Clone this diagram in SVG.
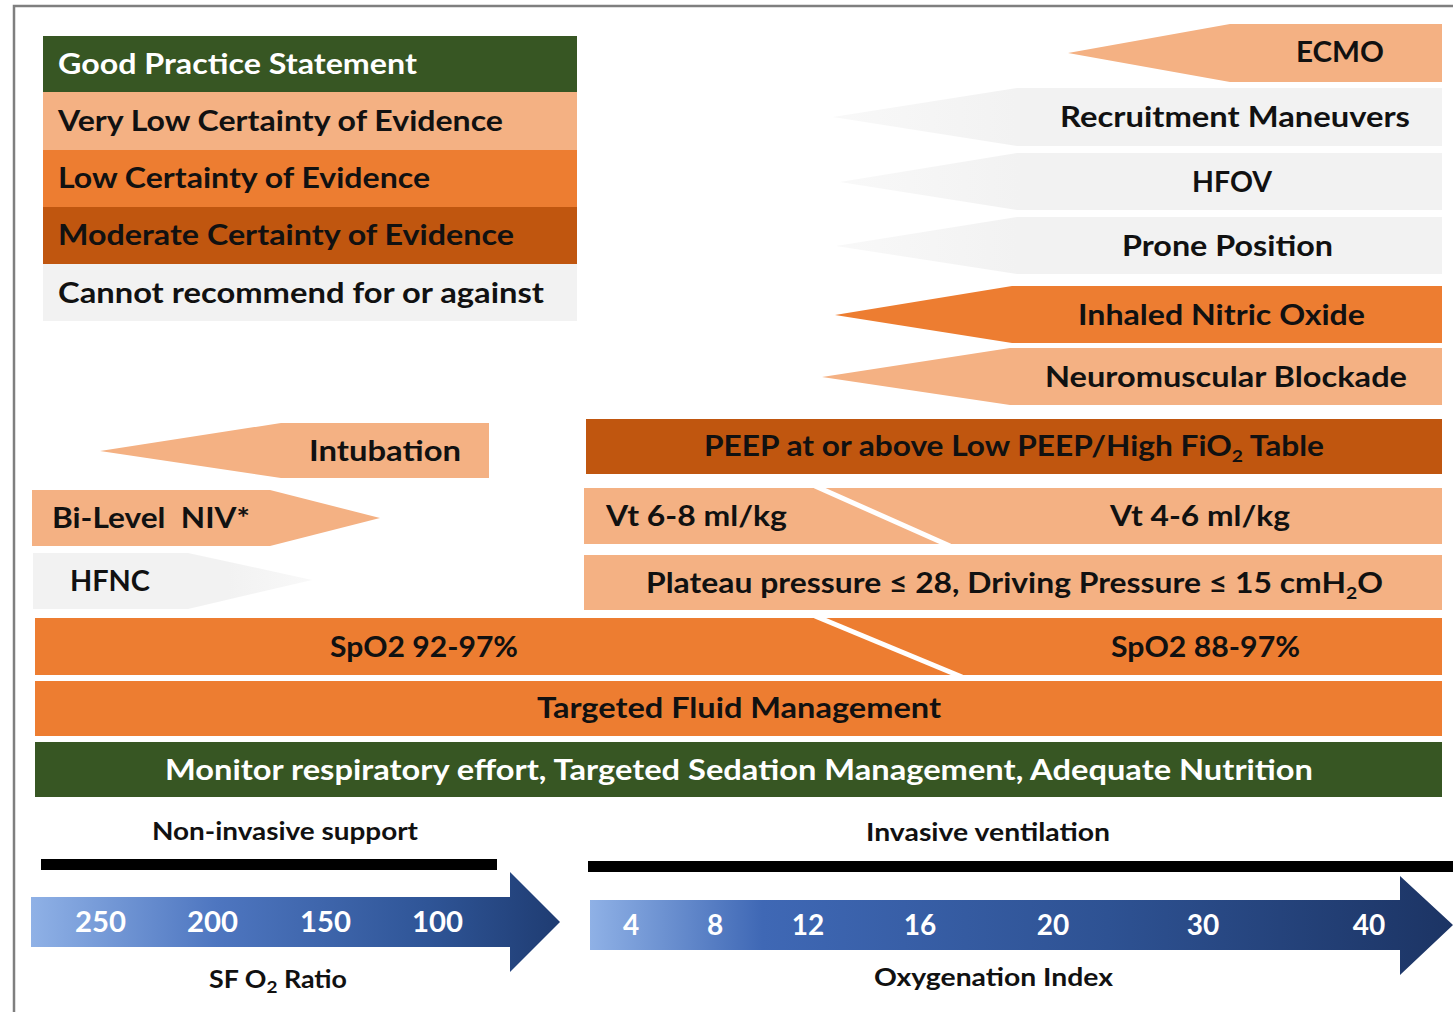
<svg xmlns="http://www.w3.org/2000/svg" width="1453" height="1012" viewBox="0 0 1453 1012">
<defs>
<style>
text{font-family:Lato,"Open Sans","Liberation Sans",sans-serif;font-weight:bold;fill:#111;}
.t28{font-size:28px;}
.t24{font-size:24px;}
.w{fill:#ffffff;}
.green{fill:#375623;}
.lo{fill:#f4b183;}
.or{fill:#ed7d31;}
.br{fill:#c0560f;}
.gr{fill:#f2f2f2;}
.div{stroke:#ffffff;stroke-width:5;fill:none;}
.sub{font-size:17px;}
</style>
<linearGradient id="blueL" x1="31" y1="0" x2="560" y2="0" gradientUnits="userSpaceOnUse">
<stop offset="0" stop-color="#8fb1e6"/>
<stop offset="0.35" stop-color="#4e76c0"/>
<stop offset="0.75" stop-color="#2f5597"/>
<stop offset="1" stop-color="#1f3c72"/>
</linearGradient>
<linearGradient id="blueR" x1="590" y1="0" x2="1453" y2="0" gradientUnits="userSpaceOnUse">
<stop offset="0" stop-color="#8fb1e6"/>
<stop offset="0.2" stop-color="#3f68b5"/>
<stop offset="0.6" stop-color="#2e5293"/>
<stop offset="1" stop-color="#1c3464"/>
</linearGradient>
<linearGradient id="grayL" x1="0" y1="0" x2="1" y2="0">
<stop offset="0" stop-color="#f2f2f2" stop-opacity="0.5"/>
<stop offset="0.3" stop-color="#f2f2f2"/>
<stop offset="1" stop-color="#f2f2f2"/>
</linearGradient>
<linearGradient id="grayR" x1="0" y1="0" x2="1" y2="0">
<stop offset="0" stop-color="#f2f2f2"/>
<stop offset="0.7" stop-color="#f2f2f2"/>
<stop offset="1" stop-color="#f2f2f2" stop-opacity="0.5"/>
</linearGradient>
</defs>
<rect x="0" y="0" width="1453" height="1012" fill="#ffffff"/>
<path d="M14,1012 V6 H1453" fill="none" stroke="#7f7f7f" stroke-width="2.5"/>

<g id="legend">
<g id="legend-good"><rect class="green" x="43" y="36" width="534" height="56"/><text class="t28 w" x="58" y="74" textLength="359" lengthAdjust="spacingAndGlyphs">Good Practice Statement</text></g>
<g id="legend-verylow"><rect class="lo" x="43" y="92" width="534" height="58"/><text class="t28" x="58" y="131" textLength="445" lengthAdjust="spacingAndGlyphs">Very Low Certainty of Evidence</text></g>
<g id="legend-low"><rect class="or" x="43" y="150" width="534" height="57"/><text class="t28" x="58" y="188" textLength="372" lengthAdjust="spacingAndGlyphs">Low Certainty of Evidence</text></g>
<g id="legend-moderate"><rect class="br" x="43" y="207" width="534" height="57"/><text class="t28" x="58" y="245" textLength="456" lengthAdjust="spacingAndGlyphs">Moderate Certainty of Evidence</text></g>
<g id="legend-cannot"><rect class="gr" x="43" y="264" width="534" height="57"/><text class="t28" x="58" y="303" textLength="486" lengthAdjust="spacingAndGlyphs">Cannot recommend for or against</text></g>
</g>

<g id="ecmo"><polygon class="lo" points="1068,53 1230,24 1442,24 1442,82 1230,82"/><text class="t28" x="1296" y="62" textLength="88" lengthAdjust="spacingAndGlyphs">ECMO</text></g>
<g id="recruitment"><polygon fill="url(#grayL)" points="833,117 1017,88 1442,88 1442,146 1017,146"/><text class="t28" x="1060" y="127" textLength="350" lengthAdjust="spacingAndGlyphs">Recruitment Maneuvers</text></g>
<g id="hfov"><polygon fill="url(#grayL)" points="840,182 1017,153 1442,153 1442,210 1017,210"/><text class="t28" x="1192" y="192" textLength="80" lengthAdjust="spacingAndGlyphs">HFOV</text></g>
<g id="prone"><polygon fill="url(#grayL)" points="836,246 1017,217 1442,217 1442,274 1017,274"/><text class="t28" x="1122" y="256" textLength="211" lengthAdjust="spacingAndGlyphs">Prone Position</text></g>
<g id="ino"><polygon class="or" points="835,315 1012,286 1442,286 1442,343 1012,343"/><text class="t28" x="1078" y="325" textLength="287" lengthAdjust="spacingAndGlyphs">Inhaled Nitric Oxide</text></g>
<g id="nmb"><polygon class="lo" points="822,377 1010,348 1442,348 1442,405 1010,405"/><text class="t28" x="1045" y="387" textLength="362" lengthAdjust="spacingAndGlyphs">Neuromuscular Blockade</text></g>

<g id="intubation"><polygon class="lo" points="100,451 281,423 489,423 489,478 281,478"/><text class="t28" x="309" y="461" textLength="152" lengthAdjust="spacingAndGlyphs">Intubation</text></g>
<g id="bilevel"><polygon class="lo" points="32,490 270,490 380,518 270,546 32,546"/><text class="t28" x="52" y="528" textLength="198" lengthAdjust="spacingAndGlyphs" xml:space="preserve">Bi-Level  NIV*</text></g>
<g id="hfnc"><polygon fill="url(#grayR)" points="33,553 188,553 312,580 188,609 33,609"/><text class="t28" x="70" y="591" textLength="80" lengthAdjust="spacingAndGlyphs">HFNC</text></g>

<g id="peep"><rect class="br" x="586" y="419" width="856" height="55"/><text class="t28" x="704" y="456" textLength="620" lengthAdjust="spacingAndGlyphs">PEEP at or above Low PEEP/High FiO<tspan class="sub" dy="6">2</tspan><tspan dy="-6"> Table</tspan></text></g>
<g id="vt"><rect class="lo" x="584" y="488" width="858" height="56"/><line class="div" x1="815" y1="486" x2="950" y2="546"/><text class="t28" x="606" y="526" textLength="181" lengthAdjust="spacingAndGlyphs">Vt 6-8 ml/kg</text><text class="t28" x="1110" y="526" textLength="180" lengthAdjust="spacingAndGlyphs">Vt 4-6 ml/kg</text></g>
<g id="plateau"><rect class="lo" x="584" y="555" width="858" height="55"/><text class="t28" x="646" y="593" textLength="737" lengthAdjust="spacingAndGlyphs">Plateau pressure ≤ 28, Driving Pressure ≤ 15 cmH<tspan class="sub" dy="6">2</tspan><tspan dy="-6">O</tspan></text></g>
<g id="spo2"><rect class="or" x="35" y="618" width="1407" height="57"/><line class="div" x1="815" y1="616" x2="962" y2="677"/><text class="t28" x="330" y="657" textLength="188" lengthAdjust="spacingAndGlyphs">SpO2 92-97%</text><text class="t28" x="1111" y="657" textLength="189" lengthAdjust="spacingAndGlyphs">SpO2 88-97%</text></g>
<g id="fluid"><rect class="or" x="35" y="681" width="1407" height="55"/><text class="t28" x="537" y="718" textLength="404" lengthAdjust="spacingAndGlyphs">Targeted Fluid Management</text></g>
<g id="monitor"><rect class="green" x="35" y="742" width="1407" height="55"/><text class="t28 w" x="165" y="780" textLength="1148" lengthAdjust="spacingAndGlyphs">Monitor respiratory effort, Targeted Sedation Management, Adequate Nutrition</text></g>

<g id="connectors">
<g id="axis-noninvasive">
<text class="t24" x="152" y="840" textLength="266" lengthAdjust="spacingAndGlyphs">Non-invasive support</text>
<rect x="41" y="859" width="456" height="11" fill="#000"/>
<polygon fill="url(#blueL)" points="31,897 510,897 510,872 560,922 510,972 510,947 31,947"/>
<text class="t28 w" x="75" y="932" textLength="51" lengthAdjust="spacingAndGlyphs">250</text>
<text class="t28 w" x="187" y="932" textLength="51" lengthAdjust="spacingAndGlyphs">200</text>
<text class="t28 w" x="300" y="932" textLength="51" lengthAdjust="spacingAndGlyphs">150</text>
<text class="t28 w" x="412" y="932" textLength="51" lengthAdjust="spacingAndGlyphs">100</text>
<text class="t24" x="209" y="988" textLength="138" lengthAdjust="spacingAndGlyphs">SF O<tspan class="sub" dy="5">2</tspan><tspan dy="-5"> Ratio</tspan></text>
</g>
<g id="axis-invasive">
<text class="t24" x="866" y="841" textLength="244" lengthAdjust="spacingAndGlyphs">Invasive ventilation</text>
<rect x="588" y="861" width="865" height="11" fill="#000"/>
<polygon fill="url(#blueR)" points="590,900 1400,900 1400,876 1453,925 1400,975 1400,950 590,950"/>
<text class="t28 w" x="631" y="935" text-anchor="middle">4</text>
<text class="t28 w" x="715" y="935" text-anchor="middle">8</text>
<text class="t28 w" x="808" y="935" text-anchor="middle">12</text>
<text class="t28 w" x="920" y="935" text-anchor="middle">16</text>
<text class="t28 w" x="1053" y="935" text-anchor="middle">20</text>
<text class="t28 w" x="1203" y="935" text-anchor="middle">30</text>
<text class="t28 w" x="1369" y="935" text-anchor="middle">40</text>
<text class="t24" x="874" y="986" textLength="239" lengthAdjust="spacingAndGlyphs">Oxygenation Index</text>
</g>
</g>
</svg>
